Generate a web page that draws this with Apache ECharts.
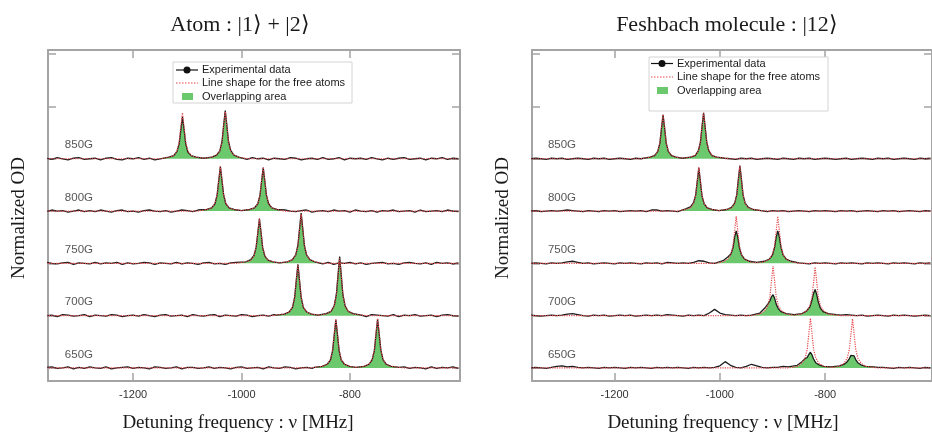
<!DOCTYPE html>
<html>
<head>
<meta charset="utf-8">
<title>Detuning spectra</title>
<script src="https://cdn.jsdelivr.net/npm/echarts@6.0.0/dist/echarts.min.js"></script>
<style>
  html, body { margin: 0; padding: 0; background: #fff; }
  #chart { width: 932px; height: 432px; }
</style>
</head>
<body>
<div id="chart"></div>
<script>
// Field labels, top to bottom; trace baselines sit at 4,3,2,1,0
const fields = ['850G', '800G', '750G', '700G', '650G'];
const xTicks = [-1200, -1000, -800];
const yTicks = [0, 1, 2, 3, 4, 5, 6];

// Baseline sample positions (MHz)
const baseX = [
  -1360, -1350, -1340, -1330, -1320, -1310, -1300, -1290, -1280, -1270, -1260,
  -1250, -1240, -1230, -1220, -1210, -1200, -1190, -1180, -1170, -1160, -1150,
  -1140, -1130, -1120, -1110, -1100, -1090, -1080, -1070, -1060, -1050, -1040,
  -1030, -1020, -1010, -1000, -990, -980, -970, -960, -950, -940, -930,
  -920, -910, -900, -890, -880, -870, -860, -850, -840, -830, -820,
  -810, -800, -790, -780, -770, -760, -750, -740, -730, -720, -710,
  -700, -690, -680, -670, -660, -650, -640, -630, -620, -610, -600
];

// Sample offsets around each peak centre (MHz)
const peakOffsets = [-40, -25, -16, -10, -6, -3, 0, 3, 6, 10, 16, 25, 40];

// ---- Atom : |1> + |2> ----
const atomCenters = [[-1109, -1030], [-1039, -960], [-967, -890], [-896, -819], [-826, -749]];

const atomExpPeaks = [
  [.01,.03,.06,.14,.29,.55,.80,.56,.29,.13,.06,.03,.01, .01,.03,.07,.15,.33,.64,.92,.63,.33,.16,.07,.03,.01],
  [.01,.03,.06,.14,.31,.59,.85,.58,.31,.14,.06,.03,.01, .01,.03,.06,.14,.30,.57,.83,.57,.30,.14,.06,.03,.01],
  [.01,.03,.07,.15,.31,.58,.85,.59,.30,.14,.06,.03,.01, .01,.03,.07,.16,.35,.66,.96,.66,.34,.16,.07,.03,.01],
  [.01,.03,.07,.16,.35,.68,.98,.67,.35,.16,.07,.03,.01, .01,.04,.08,.19,.41,.78,1.13,.77,.40,.19,.08,.04,.01],
  [.01,.03,.07,.15,.33,.63,.92,.64,.33,.15,.07,.03,.01, .01,.03,.07,.16,.33,.64,.93,.64,.34,.16,.07,.03,.01]
];

const atomFitPeaks = [
  [.01,.03,.06,.15,.32,.61,.88,.61,.32,.15,.06,.03,.01, .01,.03,.07,.15,.32,.62,.90,.62,.32,.15,.07,.03,.01],
  [.01,.03,.06,.14,.31,.59,.86,.59,.31,.14,.06,.03,.01, .01,.03,.06,.14,.30,.58,.84,.58,.30,.14,.06,.03,.01],
  [.01,.03,.06,.14,.31,.59,.86,.59,.31,.14,.06,.03,.01, .01,.03,.07,.16,.34,.65,.94,.65,.34,.16,.07,.03,.01],
  [.01,.03,.07,.16,.35,.67,.97,.67,.35,.16,.07,.03,.01, .01,.03,.08,.18,.40,.76,1.10,.76,.40,.18,.08,.03,.01],
  [.01,.03,.07,.16,.34,.65,.94,.65,.34,.16,.07,.03,.01, .01,.03,.07,.16,.34,.66,.95,.66,.34,.16,.07,.03,.01]
];

const atomNoise = [
  [.01,-.01,.02,0,-.02,.01,.02,-.01,0,.01,-.02,
   .01,.02,-.01,-.02,.01,0,.02,-.01,.01,-.02,0,
   .01,.02,-.01,0,-.02,.01,.02,-.01,.01,0,-.01,
   .02,0,-.02,.01,-.01,.02,0,.01,-.02,.01,0,
   -.01,.02,.01,-.02,0,.01,-.01,.02,-.01,0,.02,
   -.02,.01,0,.01,-.01,.02,0,-.02,.01,-.01,.01,
   .02,-.01,0,.01,-.02,.01,0,.02,-.01,.01,0],
  [-.01,.02,0,.01,-.02,0,.02,-.01,.01,-.01,.02,
   0,-.02,.01,.02,-.01,0,-.02,.01,.02,0,-.01,
   .01,-.02,0,.02,.01,-.01,.02,-.02,0,.01,-.01,
   .02,.01,-.01,0,-.02,.01,.02,-.01,0,.01,-.02,
   .02,0,-.01,.01,.02,-.02,0,.01,-.01,.02,0,
   .01,-.02,.02,0,-.01,.01,-.02,.01,0,.02,-.01,
   0,.01,-.02,.02,-.01,0,.01,-.01,.02,0,-.01],
  [.02,0,-.01,.01,.02,-.02,.01,0,-.01,.02,-.01,
   .01,0,.02,-.02,.01,-.01,0,.02,.01,-.02,.01,
   0,-.01,.02,-.01,.01,0,-.02,.01,.02,-.01,0,
   -.02,.01,.02,0,-.01,.01,-.02,0,.02,-.01,.01,
   0,-.02,.01,.02,-.01,0,.01,-.01,.02,-.02,.01,
   0,.02,-.01,.01,-.02,0,.01,.02,-.01,0,-.02,
   .01,.02,0,-.01,.01,-.02,.02,0,.01,-.01,.01],
  [0,.01,-.02,.02,.01,-.01,0,.02,-.02,.01,0,
   -.01,.02,.01,-.02,0,.01,-.01,.02,0,-.02,.01,
   .02,-.01,0,.01,-.02,.02,0,-.01,.01,.02,-.02,
   .01,0,-.01,.02,.01,-.02,0,.01,-.01,.02,0,
   .01,-.02,0,.02,-.01,.01,0,-.02,.01,.02,-.01,
   .02,0,-.01,.01,-.02,.02,.01,0,-.01,.02,-.02,
   .01,0,.02,-.01,0,.01,-.02,.01,.02,0,-.01],
  [.01,.02,-.01,0,.02,-.02,.01,-.01,.02,0,-.01,
   .02,-.02,0,.01,.02,-.01,.01,0,-.02,.02,.01,
   -.01,0,.02,-.02,.01,.01,-.01,0,.02,-.01,.01,
   0,-.02,.01,.02,-.01,0,.01,-.02,.02,0,-.01,
   .02,.01,-.02,0,.01,-.01,.02,0,-.02,.01,.01,
   -.01,.02,0,-.02,.01,-.01,.02,.01,0,-.02,.01,
   .02,-.01,.01,0,-.02,.02,-.01,.01,0,.02,-.01]
];

// ---- Feshbach molecule : |12> ----
const molCenters = [[-1108, -1031], [-1040, -962], [-969, -890], [-899, -819], [-828, -748]];

const molExpPeaks = [
  [.01,.03,.06,.14,.30,.58,.84,.58,.30,.14,.06,.03,.01, .01,.03,.06,.15,.32,.61,.88,.61,.32,.15,.06,.03,.01],
  [.02,.04,.08,.16,.31,.57,.82,.56,.29,.14,.06,.03,.01, .01,.03,.07,.15,.31,.60,.87,.60,.31,.15,.07,.03,.01],
  [.02,.05,.12,.18,.30,.50,.62,.50,.30,.16,.08,.04,.02, .02,.04,.08,.16,.31,.50,.62,.50,.31,.16,.08,.04,.02],
  [.02,.05,.14,.22,.28,.36,.40,.33,.22,.13,.07,.04,.02, .02,.04,.09,.17,.30,.43,.50,.40,.26,.14,.07,.04,.02],
  [.02,.05,.12,.18,.20,.26,.30,.25,.17,.10,.06,.03,.02, .02,.04,.07,.12,.18,.24,.27,.23,.16,.10,.06,.03,.02]
];

const molFitPeaks = [
  [.01,.03,.06,.14,.31,.59,.85,.59,.31,.14,.06,.03,.01, .01,.03,.06,.15,.32,.61,.88,.61,.32,.15,.06,.03,.01],
  [.01,.03,.06,.14,.30,.58,.84,.58,.30,.14,.06,.03,.01, .01,.03,.06,.14,.31,.59,.86,.59,.31,.14,.06,.03,.01],
  [.01,.03,.08,.17,.34,.62,.90,.62,.34,.17,.08,.03,.01, .01,.03,.08,.17,.34,.62,.90,.62,.34,.17,.08,.03,.01],
  [.01,.03,.09,.19,.36,.66,.95,.66,.36,.19,.09,.03,.01, .01,.03,.09,.19,.35,.64,.93,.64,.35,.19,.09,.03,.01],
  [.01,.03,.09,.19,.36,.66,.95,.66,.36,.19,.09,.03,.01, .01,.03,.09,.19,.36,.65,.94,.65,.36,.19,.09,.03,.01]
];

const molNoise = [
  [0,.01,0,-.01,.01,0,.01,-.01,0,.01,0,
   -.01,.01,0,.01,-.01,0,.01,0,-.01,.01,0,
   .01,0,-.01,0,.01,0,-.01,.01,0,-.01,.01,
   0,.01,-.01,0,.01,0,-.01,.01,0,.01,-.01,
   0,.01,0,-.01,.01,0,-.01,.01,0,.01,-.01,
   0,.01,0,-.01,0,.01,-.01,0,.01,0,-.01,
   .01,0,.01,-.01,0,.01,0,-.01,.01,0,.01],
  [0,.01,-.01,0,.01,0,.01,.02,.01,0,-.01,
   .01,0,-.01,.01,0,.01,-.01,0,.01,0,.01,
   -.01,.02,.02,0,.01,0,-.01,.01,0,.01,0,
   .01,0,-.01,.01,0,.01,0,-.01,.01,0,.01,
   0,-.01,.01,0,.01,-.01,0,.01,0,-.01,.01,
   0,.01,0,-.01,.01,0,.01,-.01,0,.01,0,
   -.01,.01,0,.01,-.01,0,.01,0,-.01,.01,0],
  [0,.01,0,-.01,.01,0,.01,.03,.04,.02,0,
   .01,-.01,0,.01,0,-.01,.01,0,.01,0,-.01,
   .01,0,.01,-.01,.02,.01,0,.01,0,.02,.05,
   .04,.01,0,0,0,0,0,0,0,0,.01,
   0,0,0,0,0,0,0,.01,0,-.01,.01,
   0,.01,0,-.01,.01,0,.01,0,-.01,.01,0,
   .01,0,-.01,.01,0,.01,0,-.01,.01,0,.01],
  [.01,0,-.01,0,.01,0,.01,.03,.04,.02,0,
   -.01,.01,0,.01,-.01,0,.01,0,.01,-.01,0,
   .01,0,.01,0,.02,.01,0,-.01,.01,0,.01,
   0,.05,.12,.05,.02,.01,0,.01,0,.01,0,
   0,0,0,0,0,0,0,0,0,0,0,
   0,0,0,0,.01,.02,.01,0,.01,-.01,0,
   .01,0,-.01,.01,0,.01,0,-.01,0,.01,0],
  [0,.01,0,-.01,.01,.03,.04,.02,.03,.01,0,
   .01,0,-.01,.01,0,.01,0,-.01,.01,0,.01,
   0,-.01,.01,0,.01,0,.01,0,-.01,.01,0,
   .01,0,.01,.04,.12,.05,.01,0,.03,.07,.04,
   .01,0,.01,.01,.03,.02,0,0,0,0,0,
   0,0,0,0,0,0,0,0,0,0,0,
   .01,.01,0,-.01,.01,0,.01,0,-.01,.01,0]
];

// Merge baseline samples and peak samples of one trace
function buildTrace(centers, expPeaks, fitPeaks, noise) {
    const pts = [];
    baseX.forEach(function (x, i) {
        const nearPeak = centers.some(function (c) { return Math.abs(x - c) < 40; });
        if (!nearPeak) pts.push([x, noise[i] || 0, 0]);
    });
    centers.forEach(function (c, j) {
        peakOffsets.forEach(function (off, k) {
            const idx = j * peakOffsets.length + k;
            pts.push([c + off, expPeaks[idx], fitPeaks[idx]]);
        });
    });
    pts.sort(function (a, b) { return a[0] - b[0]; });
    return pts;
}

// Three series (overlap area, data, line shape) per trace
function panelSeries(centers, expPeaks, fitPeaks, noise, axisIndex) {
    const list = [];
    fields.forEach(function (f, t) {
        const base = fields.length - 1 - t;
        const pts = buildTrace(centers[t], expPeaks[t], fitPeaks[t], noise[t]);
        list.push({
            name: 'Overlapping area', type: 'line', xAxisIndex: axisIndex, yAxisIndex: axisIndex,
            silent: true, showSymbol: false, z: 2,
            lineStyle: { width: 0 },
            areaStyle: { color: '#6cc86c', opacity: 1, origin: base },
            data: pts.map(function (p) { return [p[0], base + Math.max(0, Math.min(p[1], p[2]))]; })
        });
        list.push({
            name: 'Experimental data', type: 'line', xAxisIndex: axisIndex, yAxisIndex: axisIndex,
            silent: true, showSymbol: false, z: 3,
            lineStyle: { color: '#1c1c1c', width: 1.3 },
            data: pts.map(function (p) { return [p[0], base + p[1]]; })
        });
        list.push({
            name: 'Line shape for the free atoms', type: 'line', xAxisIndex: axisIndex, yAxisIndex: axisIndex,
            silent: true, showSymbol: false, z: 4,
            lineStyle: { color: '#e8474a', width: 1.2, type: 'dotted' },
            data: pts.map(function (p) { return [p[0], base + p[2]]; })
        });
    });
    // field labels
    list.push({
        type: 'scatter', xAxisIndex: axisIndex, yAxisIndex: axisIndex, silent: true, z: 5,
        symbolSize: 1, itemStyle: { color: 'transparent' },
        label: { show: true, position: 'inside', formatter: '{b}', color: '#2a2a2a', fontSize: 11.5,
                 fontFamily: '"Liberation Sans", Arial, sans-serif' },
        data: fields.map(function (f, t) { return { name: f, value: [-1300, fields.length - 1 - t + 0.26] }; })
    });
    return list;
}

const frameColor = '#a4a4a4';

function xAxisPair(gridIndex) {
    const common = {
        type: 'value', gridIndex: gridIndex, min: -1357, max: -597,
        splitLine: { show: false },
        axisLine: { onZero: false, lineStyle: { color: frameColor, width: 2 } },
        axisTick: { inside: true, length: 8, customValues: xTicks, lineStyle: { color: frameColor, width: 1.5 } }
    };
    return [
        Object.assign({}, common, {
            position: 'bottom',
            axisLabel: { customValues: xTicks, margin: 8, color: '#333', fontSize: 11,
                         fontFamily: '"Liberation Sans", Arial, sans-serif',
                         formatter: function (v) { return String(v); } }
        }),
        Object.assign({}, common, { position: 'top', axisLabel: { show: false } })
    ];
}

function yAxisPair(gridIndex) {
    const common = {
        type: 'value', gridIndex: gridIndex, min: -0.25, max: 6.08,
        splitLine: { show: false },
        axisLabel: { show: false },
        axisLine: { onZero: false, lineStyle: { color: frameColor, width: 2 } },
        axisTick: { inside: true, length: 8, customValues: yTicks, lineStyle: { color: frameColor, width: 1.5 } }
    };
    return [
        Object.assign({}, common, { position: 'left' }),
        Object.assign({}, common, { position: 'right' })
    ];
}

const sansFont = '11px "Liberation Sans", Arial, sans-serif';
const serifFont = '"Liberation Serif", "Times New Roman", serif';

function txt(x, y, text, font, align, rot) {
    return {
        type: 'text', x: x, y: y, rotation: rot || 0, silent: true, z: 10,
        style: { text: text, font: font, fill: '#1a1a1a',
                 textAlign: align, align: align, textVerticalAlign: 'middle', verticalAlign: 'middle' }
    };
}

// Legend drawn by hand so each key matches the figure
function legendBox(x, y, w, h, lineX, rows) {
    return [
        { type: 'rect', silent: true, z: 9, shape: { x: x, y: y, width: w, height: h },
          style: { fill: '#fff', stroke: '#d4d4d4', lineWidth: 1 } },
        { type: 'line', silent: true, z: 10, shape: { x1: lineX, y1: rows[0], x2: lineX + 22, y2: rows[0] },
          style: { stroke: '#111', lineWidth: 1.2 } },
        { type: 'circle', silent: true, z: 10, shape: { cx: lineX + 11, cy: rows[0], r: 3.5 }, style: { fill: '#111' } },
        { type: 'line', silent: true, z: 10, shape: { x1: lineX, y1: rows[1], x2: lineX + 22, y2: rows[1] },
          style: { stroke: '#e8474a', lineWidth: 1, lineDash: [1.5, 1.5] } },
        { type: 'rect', silent: true, z: 10, shape: { x: lineX + 6, y: rows[2] - 3.5, width: 11, height: 7 },
          style: { fill: '#6cc86c' } },
        txt(lineX + 26, rows[0], 'Experimental data', sansFont, 'left'),
        txt(lineX + 26, rows[1], 'Line shape for the free atoms', sansFont, 'left'),
        txt(lineX + 26, rows[2], 'Overlapping area', sansFont, 'left')
    ];
}

const chart = echarts.init(document.getElementById('chart'), null, { renderer: 'canvas' });

chart.setOption({
    animation: false,
    backgroundColor: '#fff',
    grid: [
        { left: 48, right: 472, top: 50, bottom: 51 },
        { left: 532, right: -12, top: 50, bottom: 51 }
    ],
    xAxis: xAxisPair(0).concat(xAxisPair(1)),
    yAxis: yAxisPair(0).concat(yAxisPair(1)),
    series: panelSeries(atomCenters, atomExpPeaks, atomFitPeaks, atomNoise, 0)
        .concat(panelSeries(molCenters, molExpPeaks, molFitPeaks, molNoise, 2)),
    graphic: [
        txt(240, 25, 'Atom : |1\u27E9 + |2\u27E9', '22px ' + serifFont, 'center'),
        txt(727, 25, 'Feshbach molecule : |12\u27E9', '22px ' + serifFont, 'center'),
        txt(238, 423, 'Detuning frequency : \u03BD [MHz]', '19px ' + serifFont, 'center'),
        txt(723, 423, 'Detuning frequency : \u03BD [MHz]', '19px ' + serifFont, 'center'),
        txt(19, 218, 'Normalized OD', '19px ' + serifFont, 'center', Math.PI / 2),
        txt(503, 218, 'Normalized OD', '19px ' + serifFont, 'center', Math.PI / 2)
    ].concat(legendBox(173, 62, 179, 41, 176, [70, 83, 96.5]))
     .concat(legendBox(649, 57, 179, 54, 651, [63.5, 77, 90.5]))
});

window.addEventListener('resize', function () {
    chart.resize();
});
</script>
</body>
</html>
